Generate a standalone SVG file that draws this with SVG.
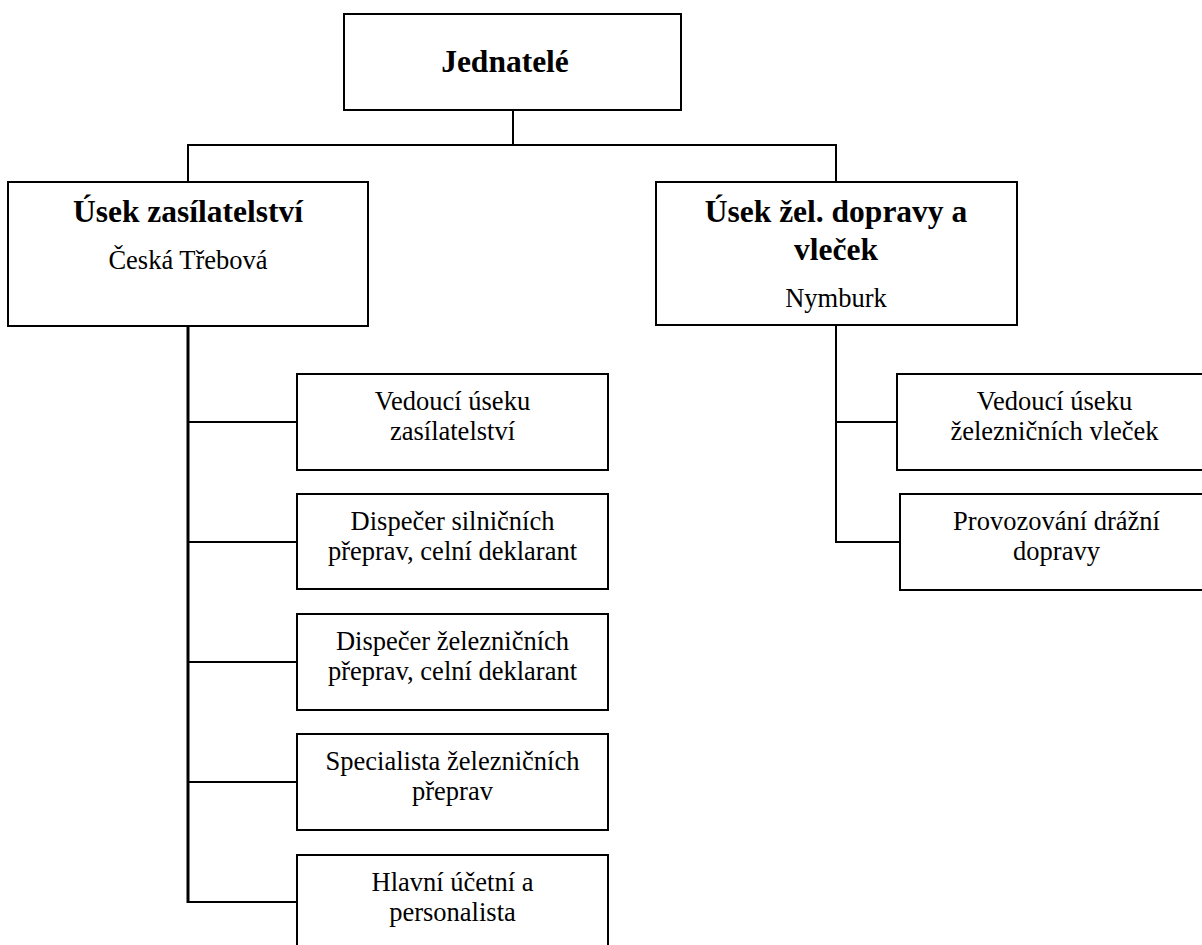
<svg xmlns="http://www.w3.org/2000/svg" width="1202" height="945" viewBox="0 0 1202 945">
<style>
.box{fill:#fff;stroke:#000;stroke-width:2}
.ln{stroke:#000;stroke-width:2;fill:none}
.thick{stroke:#000;stroke-width:3;fill:none}
text{font-family:"Liberation Serif","Times New Roman",serif;fill:#000;text-anchor:middle}
.h{font-weight:bold;font-size:31.5px}
.r{font-size:26.5px}
</style>
<rect width="1202" height="945" fill="#fff"/>
<g id="connectors">
<line class="ln" x1="513" y1="110" x2="513" y2="145"/>
<line class="ln" x1="187" y1="145" x2="837" y2="145"/>
<line class="ln" x1="188" y1="145" x2="188" y2="182"/>
<line class="ln" x1="836" y1="145" x2="836" y2="182"/>
<line class="thick" x1="188" y1="326" x2="188" y2="903"/>
<line class="ln" x1="188" y1="422" x2="297" y2="422"/>
<line class="ln" x1="188" y1="542" x2="297" y2="542"/>
<line class="ln" x1="188" y1="662" x2="297" y2="662"/>
<line class="ln" x1="188" y1="782" x2="297" y2="782"/>
<line class="ln" x1="188" y1="902" x2="297" y2="902"/>
<line class="ln" x1="836" y1="325" x2="836" y2="543"/>
<line class="ln" x1="836" y1="422" x2="897" y2="422"/>
<line class="ln" x1="836" y1="542" x2="900" y2="542"/>
</g>
<g id="jednatele">
<rect class="box" x="344" y="14" width="337" height="96"/>
<text class="h" x="505" y="72">Jednatelé</text>
</g>
<g id="usek-zasilatelstvi">
<rect class="box" x="8" y="182" width="360" height="144"/>
<text class="h" x="188" y="222">Úsek zasílatelství</text>
<text class="r" x="188" y="269">Česká Třebová</text>
</g>
<g id="usek-zel-dopravy">
<rect class="box" x="656" y="182" width="361" height="143"/>
<text class="h" x="836" y="222">Úsek žel. dopravy a</text>
<text class="h" x="836" y="260">vleček</text>
<text class="r" x="836" y="307">Nymburk</text>
</g>
<g id="vedouci-zasilatelstvi">
<rect class="box" x="297" y="374" width="311" height="96"/>
<text class="r" x="452.5" y="410">Vedoucí úseku</text>
<text class="r" x="452.5" y="440">zasílatelství</text>
</g>
<g id="dispecer-silnicnich">
<rect class="box" x="297" y="494" width="311" height="95"/>
<text class="r" x="452.5" y="530">Dispečer silničních</text>
<text class="r" x="452.5" y="560">přeprav, celní deklarant</text>
</g>
<g id="dispecer-zeleznicnich">
<rect class="box" x="297" y="614" width="311" height="96"/>
<text class="r" x="452.5" y="650">Dispečer železničních</text>
<text class="r" x="452.5" y="680">přeprav, celní deklarant</text>
</g>
<g id="specialista">
<rect class="box" x="297" y="734" width="311" height="96"/>
<text class="r" x="452.5" y="770">Specialista železničních</text>
<text class="r" x="452.5" y="800">přeprav</text>
</g>
<g id="hlavni-ucetni">
<rect class="box" x="297" y="855" width="311" height="96"/>
<text class="r" x="452.5" y="891">Hlavní účetní a</text>
<text class="r" x="452.5" y="921">personalista</text>
</g>
<g id="vedouci-vlecek">
<rect class="box" x="897" y="374" width="315" height="96"/>
<text class="r" x="1054.5" y="410">Vedoucí úseku</text>
<text class="r" x="1054.5" y="440">železničních vleček</text>
</g>
<g id="provozovani">
<rect class="box" x="900" y="494" width="313" height="96"/>
<text class="r" x="1056.5" y="530">Provozování drážní</text>
<text class="r" x="1056.5" y="560">dopravy</text>
</g>
</svg>
